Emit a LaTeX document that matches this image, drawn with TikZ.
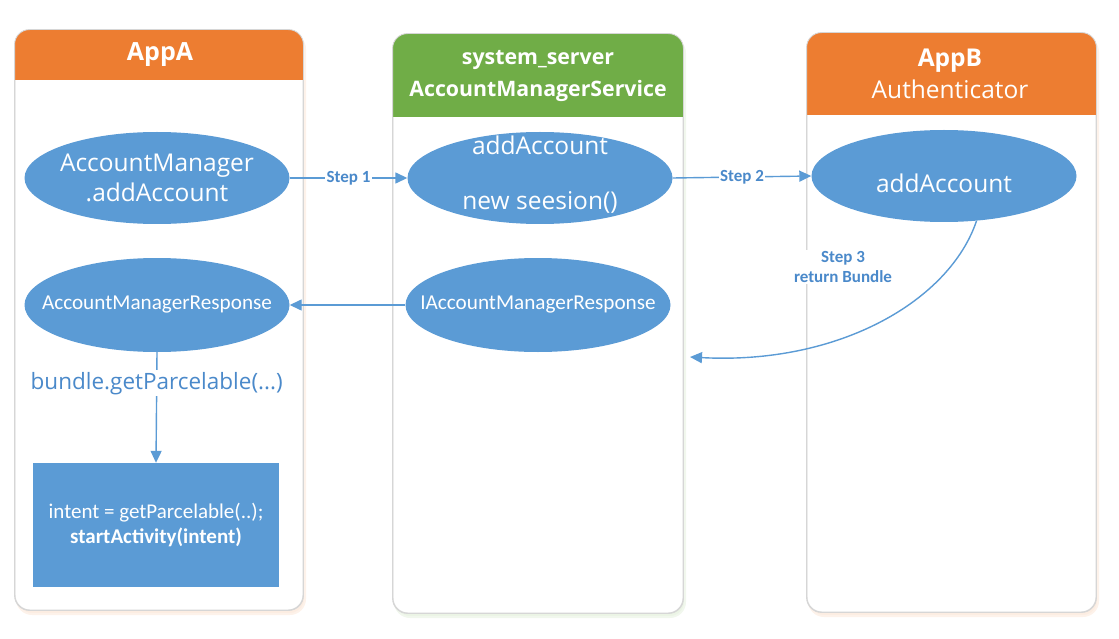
\documentclass[tikz,border=0pt]{standalone}
\usepackage{fontspec}
\setmainfont{Open Sans}
\newfontfamily\calfont{Carlito}
\usetikzlibrary{arrows.meta,shapes.geometric,calc}
\definecolor{HeadOrange}{HTML}{ED7D31}
\definecolor{HeadGreen}{HTML}{70AD47}
\definecolor{NodeBlue}{HTML}{5B9BD5}
\definecolor{PanelLine}{HTML}{D6D6D6}
\definecolor{LabelBlue}{HTML}{4A89CA}

\tikzset{
  panel/.style 2 args={draw=PanelLine, fill=white, line width=0.9pt, rounded corners=15pt,
    minimum width=#1, minimum height=#2, inner sep=0pt},
  glow/.style={fill=#1!14, draw=#1!10, line width=2pt, rounded corners=15pt},
  headtext/.style={text=white, align=center, font=\fontsize{25}{32}\selectfont},
  bubble/.style={ellipse, fill=NodeBlue, inner sep=0pt,
    minimum width=265pt, minimum height=92pt},
  bubtext/.style={text=white, align=center, inner sep=0pt},
  flow/.style={NodeBlue, line width=1.4pt, -{Triangle[length=12pt,width=11pt]}},
  steplabel/.style={fill=white, text=LabelBlue, inner sep=1.5pt, align=center,
    font=\calfont\bfseries\fontsize{17}{20}\selectfont}
}

\begin{document}
\begin{tikzpicture}[x=1pt,y=-1pt]
  \useasboundingbox (0,0) rectangle (1119,639);

  % lanes
  \fill[glow=HeadOrange] (17,34) rectangle (305,614);
  \fill[glow=HeadGreen] (395,38) rectangle (685,617);
  \fill[glow=HeadOrange] (809,37) rectangle (1098,616);
  \node[panel={288pt}{580pt}] (laneA) at (159,320) {};
  \node[panel={290pt}{579pt}] (laneS) at (538,323.5) {};
  \node[panel={289pt}{579pt}] (laneB) at (951.5,322.5) {};

  \begin{scope}
    \clip[rounded corners=15pt] (laneA.south west) rectangle (laneA.north east);
    \fill[HeadOrange] (laneA.north west) rectangle ($(laneA.north east)+(0,50)$);
  \end{scope}
  \begin{scope}
    \clip[rounded corners=15pt] (laneS.south west) rectangle (laneS.north east);
    \fill[HeadGreen] (laneS.north west) rectangle ($(laneS.north east)+(0,83)$);
  \end{scope}
  \begin{scope}
    \clip[rounded corners=15pt] (laneB.south west) rectangle (laneB.north east);
    \fill[HeadOrange] (laneB.north west) rectangle ($(laneB.north east)+(0,82)$);
  \end{scope}
  \draw[PanelLine, line width=0.9pt, rounded corners=15pt] (laneA.south west) rectangle (laneA.north east);
  \draw[PanelLine, line width=0.9pt, rounded corners=15pt] (laneS.south west) rectangle (laneS.north east);
  \draw[PanelLine, line width=0.9pt, rounded corners=15pt] (laneB.south west) rectangle (laneB.north east);

  \node[headtext] (headA) at (160,55) {\bfseries AppA};
  \node[headtext, font=\bfseries\fontsize{21.3}{32}\selectfont] (headS) at (538,76) {system\_server\\AccountManagerService};
  \node[headtext, font=\fontsize{24.5}{32}\selectfont] (headB) at (950,74) {\bfseries AppB\\Authenticator};

  % bubbles
  \node[bubble, label={[bubtext, font=\fontsize{24.5}{30}\selectfont]center:AccountManager\\.addAccount}] (aAdd) at (157,178) {};
  \node[bubble, label={[bubtext, yshift=3.5pt, font=\fontsize{24.5}{55}\selectfont]center:addAccount\\new seesion()}] (sAdd) at (540,178) {};
  \node[bubble, label={[bubtext, yshift=-7pt, font=\fontsize{24.5}{30}\selectfont]center:addAccount}] (bAdd) at (944,176) {};
  \node[bubble, minimum height=94pt, label={[bubtext, font=\calfont\fontsize{21.2}{24}\selectfont]center:AccountManagerResponse}] (aResp) at (157,305) {};
  \node[bubble, minimum height=94pt, label={[bubtext, font=\calfont\fontsize{21.2}{24}\selectfont]center:IAccountManagerResponse}] (sResp) at (538,305) {};

  \node[fill=NodeBlue, text=white, minimum width=246pt, minimum height=124pt, inner sep=0pt,
    align=center, font=\calfont\fontsize{21}{25}\selectfont] (startBox) at (156,525)
    {intent = getParcelable(..);\\\bfseries startActivity(intent)};

  \coordinate (retEnd) at (690,357);

  % connectors
  \draw[flow] (aAdd.east) -- node[steplabel] {Step 1} (sAdd.west);
  \draw[flow] (sAdd.east) -- node[steplabel] {Step 2} (bAdd.west);
  \draw[flow] (sResp.west) -- (aResp.east);
  \draw[flow] (aResp.south) -- node[pos=.28, fill=white, text=LabelBlue, inner sep=2pt,
    font=\fontsize{22.5}{24}\selectfont] (getLbl) {bundle.getParcelable(...)} (startBox.north);
  \draw[flow] (bAdd.-54) .. controls (950,300) and (840,365) .. (retEnd);
  \node[steplabel] (retLbl) at (843,267) {Step 3\\return Bundle};
\end{tikzpicture}
\end{document}
